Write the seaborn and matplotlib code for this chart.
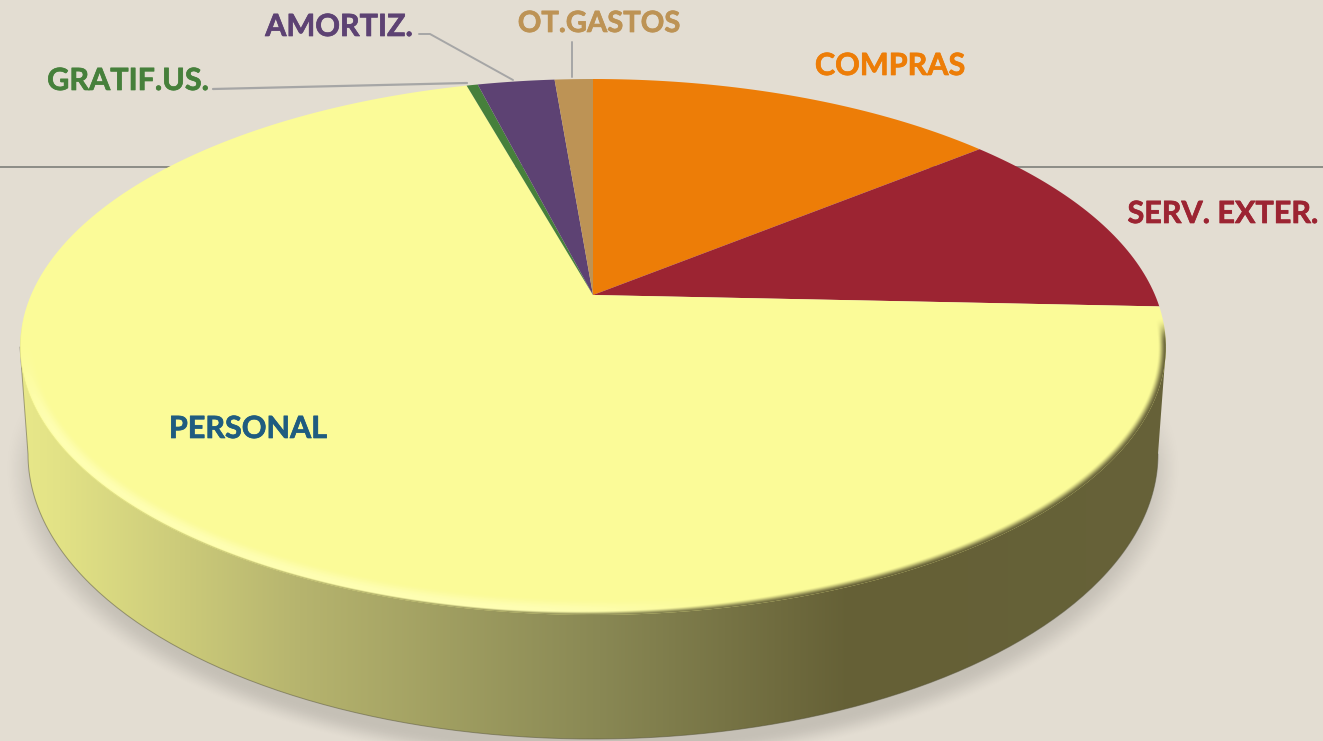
import numpy as np
import matplotlib
matplotlib.use('Agg')
import matplotlib.pyplot as plt
import matplotlib.patheffects as pe
import matplotlib.transforms as mtransforms
from matplotlib.path import Path
from matplotlib.patches import PathPatch
import seaborn as sns

# Share of each expense, clockwise from 12 o'clock
categories = ['COMPRAS', 'SERV. EXTER.', 'PERSONAL', 'GRATIF.US.', 'AMORTIZ.', 'OT.GASTOS']
values = [14.05, 11.65, 70.0, 0.38, 2.62, 1.3]
slice_colors = ['#ED7D07', '#9C2432', '#FBFB98', '#46803B', '#5D4273', '#BD9355']
label_colors = ['#ED7D07', '#9C2432', '#1F5C80', '#46803B', '#5D4273', '#BD9355']

BG = '#E3DDD2'
W, H = 1323, 741

# tilted pie geometry, pixels
APEX_X, APEX_Y = 593, 295
TILT_K = 0.194
TILT_A, TILT_B = 562, 257.9
TOP_CY, TOP_AX, TOP_AY = 347, 573, 268
BASE_CY, BASE_AX, BASE_AY = 454, 565, 285


class PieTilt(mtransforms.Transform):
    # projects the flat unit pie onto the tilted disc
    input_dims = 2
    output_dims = 2
    is_separable = False
    has_inverse = False

    def transform_non_affine(self, values):
        values = np.asarray(values, dtype=float)
        d = 1 + TILT_K * values[:, 1]
        return np.column_stack([APEX_X + TILT_A * values[:, 0] / d,
                                APEX_Y - TILT_B * values[:, 1] / d])

    def transform_path_non_affine(self, path):
        pieces = []
        for seg, code in path.iter_bezier():
            if code != Path.MOVETO:
                pieces.append(seg(np.linspace(0, 1, 24)))
        return Path(self.transform_non_affine(np.vstack(pieces)))


def smooth(v):
    v = np.clip(v, 0, 1)
    return v * v * (3 - 2 * v)


sns.set_theme(style='white')
plt.rcParams['font.family'] = ['Lato', 'DejaVu Sans']
palette = sns.color_palette(slice_colors)

fig = plt.figure(figsize=(W / 100, H / 100), dpi=100, facecolor=BG)
ax = fig.add_axes([0, 0, 1, 1], facecolor=BG)

wedges, _ = ax.pie(values, colors=palette, startangle=90, counterclock=False,
                   radius=1, wedgeprops={'linewidth': 0})
tilt = PieTilt()
for w in wedges:
    w.set_transform(tilt + ax.transData)
    w.set_zorder(4)

ax.set_aspect('auto')
ax.set_xlim(0, W)
ax.set_ylim(H, 0)
ax.axis('off')

xx, yy = np.meshgrid(np.arange(W) + 0.5, np.arange(H) + 0.5)
extent = (0, W, H, 0)

# line behind the pie
ax.plot([0, W], [167, 167], color='#8C8C86', lw=1.4, zorder=1)

# soft shadow under the base
r_sh = np.hypot((xx - APEX_X) / 590, (yy - 468) / 300)
sh_a = 0.13 * smooth((1.0 - r_sh) / 0.07) * smooth((yy - 380) / 90)
shadow = np.dstack([np.zeros_like(xx)] * 3 + [sh_a])
ax.imshow(shadow, extent=extent, aspect='auto', zorder=2, interpolation='bilinear')

# side wall with left to right gradient
t = np.linspace(np.pi, 0, 200)
base_x = APEX_X + BASE_AX * np.cos(t)
base_y = BASE_CY + BASE_AY * np.sin(t)
wall_path = Path(np.vstack([[[APEX_X - TOP_AX, TOP_CY]],
                            np.column_stack([base_x, base_y]),
                            [[APEX_X + TOP_AX, TOP_CY]],
                            [[APEX_X, TOP_CY]]]))
wall_patch = PathPatch(wall_path, facecolor='none', edgecolor='none', transform=ax.transData)
ax.add_patch(wall_patch)
stops_x = [20, 60, 300, 600, 850, 1323]
wall_rgb = [np.interp(xx, stops_x, c) / 255 for c in ([232, 226, 182, 137, 101, 103],
                                                      [232, 226, 180, 136, 96, 99],
                                                      [138, 134, 110, 84, 54, 58])]
im_wall = ax.imshow(np.dstack(wall_rgb), extent=extent, aspect='auto', zorder=3, interpolation='bilinear')
im_wall.set_clip_path(wall_patch)
# hairline round the wall, from the left rim to the right side of the base
ax.plot(np.r_[APEX_X - TOP_AX, base_x], np.r_[TOP_CY, base_y], color='#55533A', lw=0.7, alpha=0.5, zorder=3.5)

# bevel on the near rim of the yellow slice, all widths in pixels from the edge
dx, dy = xx - APEX_X, yy - TOP_CY
r_top = np.hypot(dx / TOP_AX, dy / TOP_AY)
grad = np.hypot(dx / TOP_AX ** 2, dy / TOP_AY ** 2) / np.maximum(r_top, 1e-6)
edge_px = (1 - r_top) / np.maximum(grad, 1e-6)

# lighter strip running round the left and the bottom
glow = smooth((edge_px + 1) / 4) * (1 - smooth((edge_px - 5) / 12))
glow = glow * smooth((yy - 335) / 100) * (1 - smooth((xx - 520) / 240)) * 0.8

# blur into the wall colour, wider towards the right
blur_w = np.interp(xx, [20, 500, 800, 1323], [1.2, 3, 7, 9])
blur = (1 - smooth(edge_px / blur_w)) * smooth((yy - 318) / 25)

mix = blur / np.maximum(blur + glow * (1 - blur), 1e-6)
rgba = np.dstack([1.0 * (1 - mix) + wall_rgb[0] * mix,
                  1.0 * (1 - mix) + wall_rgb[1] * mix,
                  185 / 255 * (1 - mix) + wall_rgb[2] * mix,
                  blur + glow * (1 - blur)])
im_bevel = ax.imshow(rgba, extent=extent, aspect='auto', zorder=5, interpolation='bilinear')
im_bevel.set_clip_path(wedges[2])

# leader lines
ax.plot([213, 467], [89, 83], color='#A6A6A6', lw=1.6, zorder=6)
ax.plot([419, 430, 513], [34, 34, 80], color='#A6A6A6', lw=1.4, zorder=6)
ax.plot([572, 572], [42, 77], color='#A6A6A6', lw=1.4, zorder=6)

# labels
label_xy = [(890, 66), (1223, 214), (248, 429), (128, 81), (339, 27), (599, 24)]
label_sizes = [22, 22, 22, 22, 22, 21]
for name, col, size, (lx, ly) in zip(categories, label_colors, label_sizes, label_xy):
    ax.text(lx, ly, name, color=col, fontsize=size, fontweight='bold',
            ha='center', va='center', zorder=7,
            path_effects=[pe.withStroke(linewidth=0.5, foreground=col)])

fig.savefig('out.png', dpi=100, facecolor=BG)
